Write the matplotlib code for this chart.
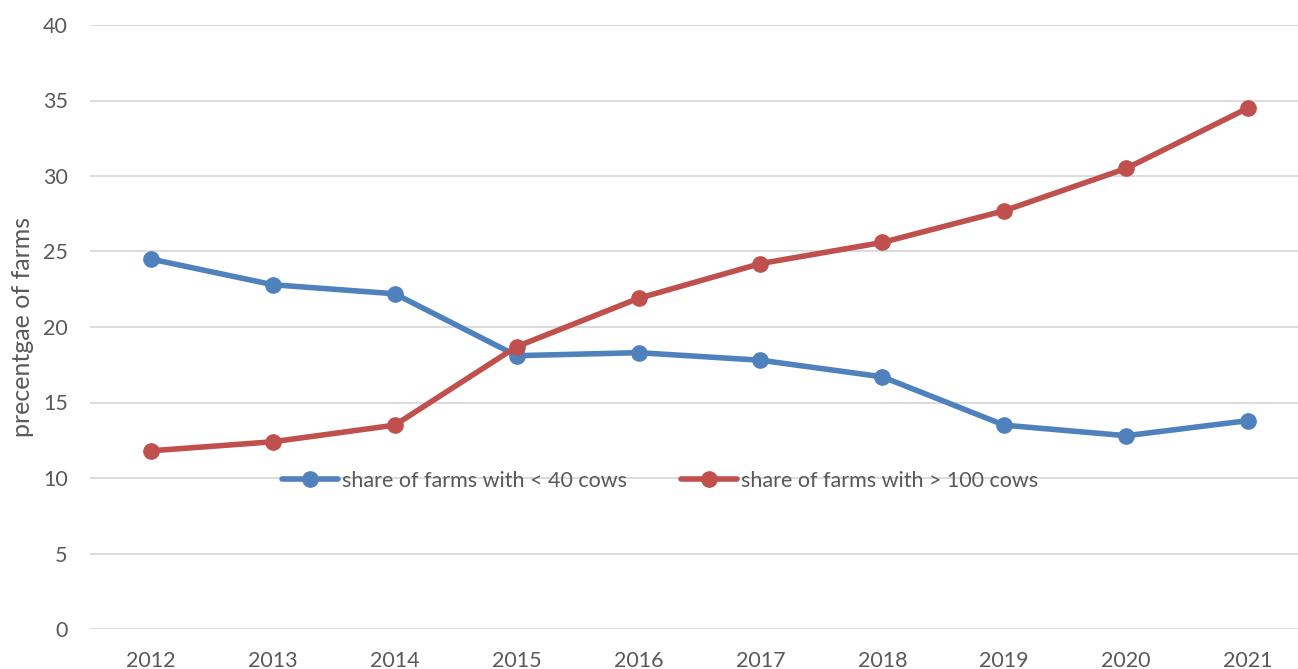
import matplotlib.pyplot as plt

plt.rcParams['font.family'] = ['Lato', 'DejaVu Sans']

years = ["2012", "2013", "2014", "2015", "2016", "2017", "2018", "2019", "2020", "2021"]
small_farms = [24.5, 22.8, 22.2, 18.1, 18.3, 17.8, 16.7, 13.5, 12.8, 13.8]
large_farms = [11.8, 12.4, 13.5, 18.7, 21.9, 24.2, 25.6, 27.7, 30.5, 34.5]

blue = "#4F81BD"
red = "#C0504D"
text_color = "#595959"

fig = plt.figure(figsize=(12.98, 6.69), dpi=100)
ax = fig.add_axes([90 / 1298, 40 / 669, 1219 / 1298, 604 / 669])

x = range(len(years))
ax.plot(x, small_farms, color=blue, lw=4, marker="o", ms=11,
        label="share of farms with < 40 cows", solid_capstyle="round")
ax.plot(x, large_farms, color=red, lw=4, marker="o", ms=11,
        label="share of farms with > 100 cows", solid_capstyle="round")

ax.set_xlim(-0.5, len(years) - 0.5)
ax.set_ylim(0, 40)
ax.set_yticks(range(0, 41, 5))
ax.set_xticks(list(x))
ax.set_xticklabels(years)
ax.yaxis.grid(True, color="#D9D9D9", lw=1.3)
ax.set_axisbelow(True)
for s in ax.spines.values():
    s.set_visible(False)
ax.tick_params(length=0, labelsize=15.5, colors=text_color)
ax.tick_params(axis="x", pad=16)
ax.tick_params(axis="y", pad=16)
ax.set_ylabel("precentgae of farms", fontsize=18, color=text_color, labelpad=6)

ax.legend(loc="center", bbox_to_anchor=(660 / 1219 - 90 / 1219, (669 - 481 - 40) / 604),
          ncol=2, frameon=False, fontsize=15.5, labelcolor=text_color,
          handlelength=2.6, columnspacing=2.5, handletextpad=0.2)

fig.savefig("out.png", dpi=100)
